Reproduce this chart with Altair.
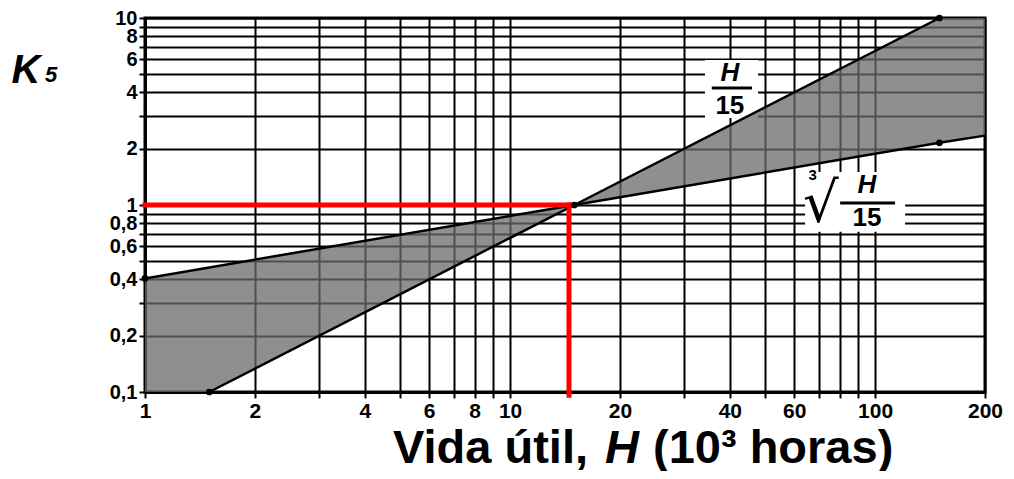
import altair as alt
import pandas as pd

# ---- data ----
x_grid = [1, 2, 3, 4, 5, 6, 7, 8, 9, 10, 20, 30, 40, 50, 60, 70, 80, 90, 100, 200]
x_labels = [1, 2, 4, 6, 8, 10, 20, 40, 60, 100, 200]
y_grid = [0.1, 0.2, 0.3, 0.4, 0.5, 0.6, 0.7, 0.8, 0.9, 1, 2, 3, 4, 5, 6, 7, 8, 9, 10]
y_labels = [0.1, 0.2, 0.4, 0.6, 0.8, 1, 2, 4, 6, 8, 10]

# shaded band vertices
band_x = [1, 1.5, 15, 150, 200]
band_upper = [0.405, 0.464, 1, 10, 10]
band_lower = [0.1, 0.1, 1, 2.15, 2.35]

# H/15 line
lin_x = [1.5, 15, 150]
lin_y = [0.1, 1, 10]
# cube root (H/15) line
cub_x = [1, 15, 150, 200]
cub_y = [0.405, 1, 2.15, 2.35]

# marked points
pt_x = [1.5, 1, 15, 150, 150]
pt_y = [0.1, 0.405, 1, 10, 2.15]

# red reading lines
red_h = 14.5
red_k = 1.0

# label boxes (x, x2, y, y2)
box_x = [34.2, 64.3]
box_x2 = [47.8, 120.8]
box_y = [2.92, 0.72]
box_y2 = [5.96, 1.5]

# fraction texts
num_text = ["H", "H"]
num_x = [40.0, 95.0]
num_y = [5.1, 1.28]
den_text = ["15", "15"]
den_x = [40.0, 95.0]
den_y = [3.4, 0.85]
bar_x = [35.7, 80.2]
bar_x2 = [46.0, 113.4]
bar_y = [4.22, 1.025]
rad_x = [71.0]
rad_y = [1.0]
idx_x = [67.5]
idx_y = [1.45]

# axis title pieces
xt_left = "Vida útil,"
xt_mid = "H"
xt_right = "(10³ horas)"
yt_main = "K"
yt_sub = "5"

FONT = "Liberation Sans"

xs = alt.Scale(type="log", domain=[1, 200], nice=False)
ys = alt.Scale(type="log", domain=[0.1, 10], nice=False)


def lab_expr(vals):
    arr = "[" + ",".join(str(v) for v in vals) + "]"
    return f"indexof({arr}, datum.value) >= 0 ? replace(toString(datum.value), '.', ',') : ''"


x_axis = alt.Axis(
    values=x_grid, labelExpr=lab_expr(x_labels), grid=True, gridColor="black",
    gridWidth=2, gridOpacity=1, domainColor="black", domainWidth=3,
    tickColor="black", tickWidth=2, tickSize=6, labelFont=FONT, labelFontSize=21,
    labelFontWeight="bold", labelColor="black", labelPadding=2, labelFlush=False,
    labelOverlap=False, title=None,
)
y_axis = alt.Axis(
    values=y_grid, labelExpr=lab_expr(y_labels), grid=True, gridColor="black",
    gridWidth=2, gridOpacity=1, domainColor="black", domainWidth=3,
    tickColor="black", tickWidth=2, tickSize=6, labelFont=FONT, labelFontSize=20,
    labelFontWeight="bold", labelColor="black", labelPadding=2, labelFlush=False,
    labelOverlap=False,
    title=yt_main, titleFont=FONT, titleFontSize=40, titleFontWeight="bold",
    titleFontStyle="italic", titleColor="black", titleAngle=0, titleX=-134,
    titleY=64, titleBaseline="alphabetic", titleAnchor="start", titleAlign="left",
)

grid_df = pd.DataFrame({"x": [1], "y": [1]})
base = alt.Chart(grid_df).mark_point(opacity=0).encode(
    x=alt.X("x:Q", scale=xs, axis=x_axis),
    y=alt.Y("y:Q", scale=ys, axis=y_axis),
)

boxes = alt.Chart(pd.DataFrame({"x": box_x, "x2": box_x2, "y": box_y, "y2": box_y2})).mark_rect(
    color="white"
).encode(x=alt.X("x:Q", scale=xs), x2="x2:Q", y=alt.Y("y:Q", scale=ys), y2="y2:Q")

band = alt.Chart(pd.DataFrame({"x": band_x, "u": band_upper, "l": band_lower})).mark_area(
    color="#6a6a6a", opacity=0.75
).encode(x=alt.X("x:Q", scale=xs), y=alt.Y("u:Q", scale=ys), y2="l:Q")

line1 = alt.Chart(pd.DataFrame({"x": lin_x, "y": lin_y})).mark_line(
    color="black", strokeWidth=2.5
).encode(x=alt.X("x:Q", scale=xs), y=alt.Y("y:Q", scale=ys))

line2 = alt.Chart(pd.DataFrame({"x": cub_x, "y": cub_y})).mark_line(
    color="black", strokeWidth=2.5
).encode(x=alt.X("x:Q", scale=xs), y=alt.Y("y:Q", scale=ys))

pts = alt.Chart(pd.DataFrame({"x": pt_x, "y": pt_y})).mark_circle(
    color="black", size=45, opacity=1
).encode(x=alt.X("x:Q", scale=xs), y=alt.Y("y:Q", scale=ys))

red_df = pd.DataFrame({"x": [1, red_h], "x2": [red_h, red_h], "y": [red_k, 0.096], "y2": [red_k, red_k]})
red = alt.Chart(red_df).mark_rule(color="#ff0000", strokeWidth=5, strokeCap="square").encode(
    x=alt.X("x:Q", scale=xs), x2="x2:Q", y=alt.Y("y:Q", scale=ys), y2="y2:Q"
)

num = alt.Chart(pd.DataFrame({"t": num_text, "x": num_x, "y": num_y})).mark_text(
    font=FONT, fontSize=26, fontWeight="bold", fontStyle="italic", color="black",
    baseline="middle", align="center"
).encode(x=alt.X("x:Q", scale=xs), y=alt.Y("y:Q", scale=ys), text="t:N")

den = alt.Chart(pd.DataFrame({"t": den_text, "x": den_x, "y": den_y})).mark_text(
    font=FONT, fontSize=26, fontWeight="bold", color="black",
    baseline="middle", align="center"
).encode(x=alt.X("x:Q", scale=xs), y=alt.Y("y:Q", scale=ys), text="t:N")

bars = alt.Chart(pd.DataFrame({"x": bar_x, "x2": bar_x2, "y": bar_y})).mark_rule(
    color="black", strokeWidth=3
).encode(x=alt.X("x:Q", scale=xs), x2="x2:Q", y=alt.Y("y:Q", scale=ys))

rad = alt.Chart(pd.DataFrame({"x": rad_x, "y": rad_y, "t": ["√"]})).mark_text(
    font="DejaVu Sans", fontSize=56, color="black", baseline="middle", align="center"
).encode(x=alt.X("x:Q", scale=xs), y=alt.Y("y:Q", scale=ys), text="t:N")

idx = alt.Chart(pd.DataFrame({"x": idx_x, "y": idx_y, "t": ["3"]})).mark_text(
    font=FONT, fontSize=15, fontWeight="bold", color="black", baseline="middle", align="center"
).encode(x=alt.X("x:Q", scale=xs), y=alt.Y("y:Q", scale=ys), text="t:N")

# title pieces (annotation text placed in the margin)
title_df = pd.DataFrame({"a": [0]})
t_left = alt.Chart(title_df).mark_text(
    text=xt_left, font=FONT, fontSize=47, fontWeight="bold", color="black",
    align="right", baseline="alphabetic"
).encode(x=alt.value(443), y=alt.value(445))
t_mid = alt.Chart(title_df).mark_text(
    text=xt_mid, font=FONT, fontSize=47, fontWeight="bold", fontStyle="italic",
    color="black", align="center", baseline="alphabetic"
).encode(x=alt.value(477), y=alt.value(445))
t_right = alt.Chart(title_df).mark_text(
    text=xt_right, font=FONT, fontSize=47, fontWeight="bold", color="black",
    align="left", baseline="alphabetic"
).encode(x=alt.value(508), y=alt.value(445))
k_sub = alt.Chart(title_df).mark_text(
    text=yt_sub, font=FONT, fontSize=22, fontWeight="bold", fontStyle="italic",
    color="black", align="center", baseline="alphabetic"
).encode(x=alt.value(-94), y=alt.value(64))

chart = alt.layer(
    base, boxes, band, line1, line2, red, pts, rad, idx, num, den, bars,
    t_left, t_mid, t_right, k_sub
).properties(
    width=840, height=374,
    autosize=alt.AutoSizeParams(type="none"),
    padding={"left": 137, "top": 10, "right": 21, "bottom": 79},
    background="white",
).configure_view(stroke="black", strokeWidth=3)

chart.save("out.html", embed_options={"renderer": "svg", "actions": False})
